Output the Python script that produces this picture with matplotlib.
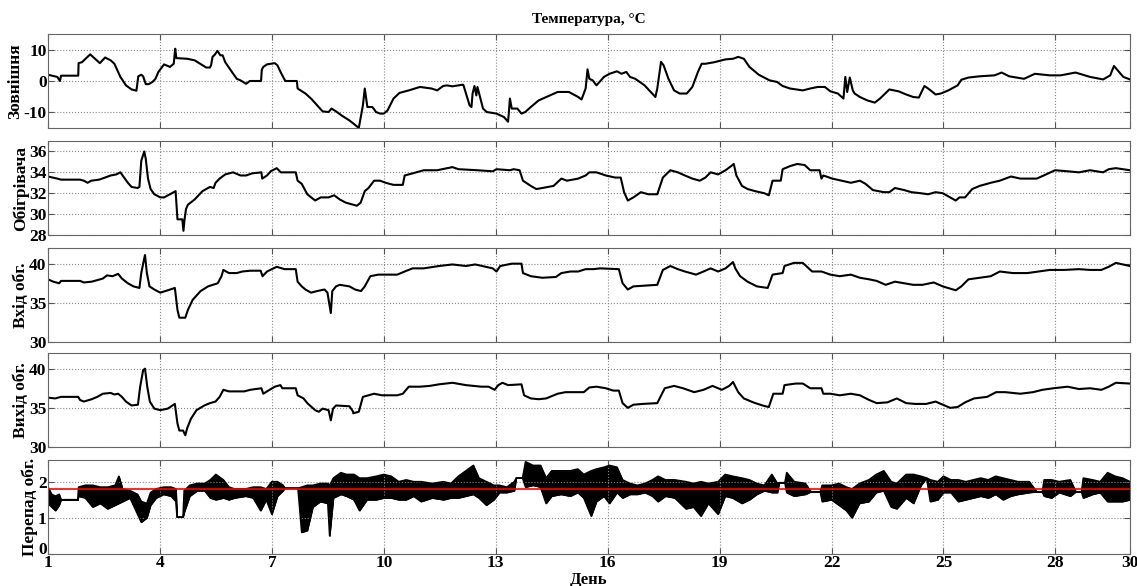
import matplotlib.pyplot as plt
import matplotlib.transforms as mtransforms

plt.rcParams['font.family'] = ['Liberation Serif', 'DejaVu Serif']
plt.rcParams['font.weight'] = 'bold'
plt.rcParams['axes.unicode_minus'] = False

# --- Зовнішня (outdoor temperature) ---
out_day = [1.00, 1.25, 1.32, 1.35, 1.81, 1.82, 1.91, 2.13, 2.39, 2.53, 2.68, 2.78, 2.94, 3.09,
           3.24, 3.37, 3.42, 3.50, 3.55, 3.62, 3.70, 3.80, 3.88, 3.96, 4.11, 4.27, 4.37, 4.41,
           4.44, 4.73, 4.93, 5.08, 5.24, 5.34, 5.37, 5.41, 5.47, 5.54, 5.62, 5.68, 5.75, 5.90,
           6.06, 6.16, 6.31, 6.41, 6.71, 6.73, 6.77, 6.87, 7.08, 7.15, 7.24, 7.36, 7.67, 7.69,
           7.90, 8.05, 8.20, 8.36, 8.52, 8.60, 8.72, 8.87, 9.08, 9.23, 9.33, 9.44, 9.49, 9.56,
           9.69, 9.74, 9.79, 9.90, 10.00, 10.10, 10.26, 10.42, 10.67, 10.97, 11.28, 11.43, 11.59,
           11.69, 11.84, 12.10, 12.13, 12.15, 12.22, 12.30, 12.35, 12.38, 12.43, 12.48, 12.51,
           12.59, 12.66, 12.76, 13.02, 13.22, 13.33, 13.35, 13.38, 13.43, 13.58, 13.69, 13.79,
           13.94, 14.15, 14.45, 14.66, 14.96, 15.21, 15.30, 15.41, 15.46, 15.51, 15.60, 15.70,
           15.90, 16.05, 16.25, 16.37, 16.50, 16.60, 16.74, 16.99, 17.28, 17.33, 17.43, 17.50,
           17.63, 17.78, 17.93, 18.12, 18.27, 18.42, 18.52, 18.62, 18.86, 19.16, 19.36, 19.50,
           19.65, 19.80, 20.05, 20.34, 20.54, 20.69, 20.89, 21.23, 21.43, 21.63, 21.82, 21.97,
           22.17, 22.32, 22.37, 22.42, 22.49, 22.57, 22.62, 22.76, 22.96, 23.16, 23.30, 23.55,
           23.80, 24.00, 24.19, 24.34, 24.49, 24.59, 24.79, 24.93, 25.13, 25.38, 25.48, 25.67,
           25.97, 26.37, 26.56, 26.76, 27.16, 27.45, 27.85, 28.14, 28.54, 28.93, 29.28, 29.47,
           29.57, 29.67, 29.82, 30.00]
out_val = [2.0, 1.3, 0.0, 1.7, 1.7, 5.7, 6.0, 8.5, 5.7, 7.5, 6.6, 5.5, 1.3, -1.4,
           -2.7, -3.1, 1.5, 2.0, 1.5, -1.0, -1.0, -0.3, 0.7, 2.9, 5.3, 4.5, 5.5, 10.3,
           7.3, 7.1, 6.6, 5.5, 4.3, 4.3, 5.0, 7.7, 8.4, 9.6, 8.2, 8.2, 6.0, 3.4,
           0.7, 0.2, -0.9, 0.0, 0.0, 3.6, 4.5, 5.3, 5.7, 5.0, 2.7, 0.0, 0.0, -2.4,
           -4.0, -5.6, -7.6, -9.7, -9.9, -8.8, -9.7, -11.0, -12.6, -14.0, -15.0, -7.8, -2.4, -8.3,
           -8.3, -9.0, -9.9, -10.4, -10.4, -9.4, -5.6, -3.8, -3.0, -1.9, -2.4, -3.0, -1.6,
           -1.4, -1.7, -1.2, -1.2, -1.9, -4.6, -7.8, -8.3, -4.0, -1.6, -4.6, -1.9,
           -5.6, -8.8, -9.9, -10.4, -11.5, -13.0, -10.4, -5.6, -8.8, -8.8, -10.4, -9.9,
           -8.3, -6.2, -4.6, -3.5, -3.5, -5.1, -5.9, -2.4, 3.7, 0.7, 0.2, -1.4,
           1.3, 2.3, 3.1, 2.3, 2.9, 1.3, 0.7, -1.4, -5.1, -2.4, 6.1, 5.0,
           0.7, -3.0, -4.0, -4.0, -1.9, 2.9, 5.5, 5.5, 6.0, 6.9, 7.1, 7.7,
           7.1, 4.5, 2.0, 0.2, -0.3, -1.6, -2.4, -3.0, -2.4, -1.9, -1.9, -3.3,
           -4.0, -5.6, 1.3, -3.5, 1.1, -3.0, -4.0, -5.1, -6.2, -6.9, -5.6, -2.7,
           -3.3, -4.3, -5.1, -5.3, -1.6, -2.4, -4.3, -4.0, -3.0, -1.4, 0.4, 1.1,
           1.5, 1.8, 2.7, 1.5, 0.7, 2.3, 1.8, 1.8, 2.7, 1.3, 0.5, 1.8,
           4.8, 3.4, 1.3, 0.5]

# --- Обігрівача (heater) ---
htr_day = [1.00, 1.25, 1.35, 1.86, 1.96, 2.06, 2.16, 2.37, 2.53, 2.68, 2.83, 2.94, 3.04, 3.14,
           3.24, 3.40, 3.45, 3.50, 3.58, 3.62, 3.68, 3.75, 3.85, 4.01, 4.11, 4.27, 4.42, 4.47,
           4.60, 4.63, 4.66, 4.70, 4.75, 4.93, 5.14, 5.34, 5.44, 5.49, 5.60, 5.75, 5.96, 6.16,
           6.31, 6.47, 6.72, 6.74, 6.87, 6.97, 7.13, 7.24, 7.64, 7.69, 7.80, 7.95, 8.16, 8.31,
           8.52, 8.67, 8.82, 8.98, 9.28, 9.38, 9.49, 9.59, 9.74, 9.90, 10.05, 10.26, 10.51,
           10.56, 10.77, 11.07, 11.43, 11.84, 12.00, 12.51, 12.92, 13.02, 13.38, 13.48, 13.64,
           13.73, 13.94, 14.09, 14.25, 14.55, 14.76, 14.91, 15.21, 15.41, 15.51, 15.70, 15.95,
           16.20, 16.35, 16.44, 16.54, 16.69, 16.89, 17.09, 17.33, 17.48, 17.68, 17.88, 18.07,
           18.27, 18.47, 18.62, 18.76, 18.96, 19.16, 19.31, 19.38, 19.45, 19.60, 19.75, 19.95,
           20.20, 20.32, 20.42, 20.64, 20.69, 20.89, 21.08, 21.28, 21.43, 21.68, 21.73, 21.78,
           22.02, 22.27, 22.52, 22.76, 22.91, 23.11, 23.40, 23.55, 23.70, 23.95, 24.14, 24.39,
           24.59, 24.79, 24.98, 25.18, 25.33, 25.43, 25.58, 25.77, 25.97, 26.27, 26.51, 26.81,
           27.06, 27.35, 27.50, 27.75, 27.99, 28.33, 28.63, 28.93, 29.28, 29.43, 29.62, 30.00]
htr_val = [33.6, 33.4, 33.3, 33.3, 33.2, 33.0, 33.2, 33.3, 33.5, 33.7, 33.8, 34.0, 33.5, 33.0,
           32.6, 32.5, 32.6, 35.1, 36.0, 35.3, 33.4, 32.4, 31.9, 31.6, 31.6, 31.9, 32.2, 29.5,
           29.5, 28.4, 29.5, 30.5, 30.9, 31.4, 32.2, 32.6, 32.5, 33.0, 33.4, 33.8, 34.0, 33.7,
           33.7, 33.9, 34.0, 33.4, 33.7, 34.1, 34.4, 34.0, 34.0, 33.2, 32.9, 31.9, 31.3, 31.6,
           31.6, 31.8, 31.4, 31.1, 30.8, 31.1, 32.2, 32.5, 33.2, 33.2, 33.0, 32.8, 32.8,
           33.7, 33.9, 34.2, 34.2, 34.5, 34.3, 34.2, 34.1, 34.3, 34.2, 34.3, 34.2,
           33.2, 32.7, 32.4, 32.5, 32.7, 33.4, 33.2, 33.4, 33.7, 34.0, 34.0, 33.7,
           33.5, 33.5, 32.1, 31.3, 31.6, 32.1, 31.9, 31.9, 33.5, 34.2, 34.0, 33.7,
           33.4, 33.2, 33.5, 34.0, 33.8, 34.2, 34.6, 34.8, 33.7, 32.7, 32.4, 32.2,
           32.0, 31.8, 33.2, 33.2, 34.3, 34.6, 34.8, 34.7, 34.2, 34.2, 33.4, 33.7,
           33.4, 33.2, 33.0, 33.2, 32.9, 32.3, 32.1, 32.1, 32.5, 32.3, 32.1, 32.0,
           31.9, 32.1, 32.0, 31.6, 31.3, 31.6, 31.6, 32.4, 32.7, 33.0, 33.2, 33.6,
           33.4, 33.4, 33.4, 33.8, 34.2, 34.1, 34.0, 34.2, 34.0, 34.3, 34.4, 34.2]

# --- Вхід обг. (heater inlet) ---
inl_day = [1.00, 1.14, 1.30, 1.35, 1.86, 1.96, 2.17, 2.32, 2.47, 2.58, 2.73, 2.88, 2.98, 3.14,
           3.29, 3.45, 3.50, 3.58, 3.60, 3.65, 3.72, 3.85, 4.01, 4.21, 4.40, 4.47, 4.52, 4.68,
           4.75, 4.88, 5.09, 5.29, 5.55, 5.65, 5.70, 5.85, 6.06, 6.21, 6.42, 6.70, 6.75, 6.87,
           7.13, 7.34, 7.64, 7.69, 7.80, 7.90, 8.05, 8.21, 8.41, 8.49, 8.58, 8.62, 8.72, 8.82,
           9.08, 9.23, 9.39, 9.49, 9.64, 9.85, 10.36, 10.56, 10.77, 11.07, 11.48, 11.84, 12.20,
           12.45, 12.92, 13.02, 13.12, 13.43, 13.69, 13.73, 13.94, 14.25, 14.61, 14.76, 15.00,
           15.21, 15.41, 15.61, 15.80, 16.30, 16.40, 16.54, 16.69, 17.33, 17.48, 17.68, 17.88,
           18.07, 18.37, 18.57, 18.76, 18.96, 19.16, 19.36, 19.42, 19.55, 19.75, 20.00, 20.29,
           20.42, 20.69, 20.74, 20.99, 21.23, 21.48, 21.73, 21.97, 22.22, 22.52, 22.76, 23.01,
           23.21, 23.45, 23.70, 23.95, 24.19, 24.44, 24.74, 24.98, 25.33, 25.48, 25.67, 25.97,
           26.27, 26.51, 26.86, 27.25, 27.55, 27.85, 28.24, 28.63, 28.93, 29.23, 29.43, 29.62,
           30.00]
inl_val = [38.0, 37.7, 37.5, 37.8, 37.8, 37.6, 37.7, 37.9, 38.1, 38.5, 38.4, 38.7, 38.1, 37.5,
           37.1, 36.9, 38.8, 40.7, 41.1, 38.8, 37.1, 36.7, 36.3, 36.6, 36.9, 34.1, 33.1, 33.1,
           34.1, 35.4, 36.5, 37.1, 37.5, 38.4, 39.2, 38.8, 38.8, 39.0, 39.1, 39.1, 38.4, 39.0,
           39.6, 39.3, 39.3, 37.7, 37.1, 36.7, 36.3, 36.5, 36.7, 36.3, 33.7, 36.5, 37.1, 37.3,
           37.1, 36.7, 36.5, 37.1, 38.4, 38.6, 38.6, 39.0, 39.4, 39.4, 39.7, 39.9, 39.7,
           39.9, 39.4, 39.0, 39.7, 40.0, 40.0, 38.8, 38.4, 38.2, 38.3, 38.8, 39.0,
           39.0, 39.3, 39.3, 39.4, 39.3, 37.5, 36.7, 37.1, 37.3, 39.2, 39.7, 39.3,
           39.0, 38.6, 39.0, 39.4, 39.0, 39.4, 40.2, 39.4, 38.4, 37.7, 37.1, 36.9,
           38.6, 38.8, 39.7, 40.1, 40.1, 39.0, 39.0, 38.6, 38.4, 38.6, 38.2, 38.0,
           37.8, 37.3, 37.7, 37.5, 37.3, 37.3, 37.6, 37.1, 36.6, 37.1, 38.0, 38.2,
           38.4, 39.0, 38.8, 38.8, 39.0, 39.2, 39.2, 39.3, 39.2, 39.2, 39.6, 40.1,
           39.7]

# --- Вихід обг. (heater outlet) ---
otl_day = [1.00, 1.19, 1.35, 1.81, 1.86, 1.96, 2.17, 2.32, 2.47, 2.68, 2.78, 2.88, 2.98, 3.09,
           3.24, 3.41, 3.47, 3.55, 3.60, 3.66, 3.73, 3.85, 4.01, 4.21, 4.40, 4.47, 4.52, 4.62,
           4.68, 4.73, 4.83, 4.98, 5.19, 5.34, 5.49, 5.60, 5.70, 5.85, 6.26, 6.42, 6.72, 6.77,
           6.87, 7.08, 7.23, 7.28, 7.64, 7.69, 7.85, 7.95, 8.16, 8.26, 8.36, 8.52, 8.58, 8.64,
           8.72, 9.08, 9.18, 9.18, 9.33, 9.44, 9.74, 9.95, 10.36, 10.51, 10.67, 10.97, 11.23,
           11.48, 11.84, 12.20, 12.61, 12.81, 12.97, 13.07, 13.18, 13.33, 13.69, 13.76, 13.94,
           14.15, 14.35, 14.66, 14.87, 15.17, 15.36, 15.51, 15.70, 15.95, 16.15, 16.30, 16.40,
           16.54, 16.69, 16.94, 17.33, 17.53, 17.78, 18.02, 18.32, 18.57, 18.81, 19.06, 19.26,
           19.36, 19.50, 19.65, 19.90, 20.15, 20.32, 20.44, 20.69, 20.74, 21.04, 21.23, 21.43,
           21.73, 21.78, 21.97, 22.22, 22.52, 22.76, 23.01, 23.21, 23.50, 23.75, 24.00, 24.24,
           24.54, 24.79, 24.98, 25.18, 25.38, 25.58, 25.82, 26.17, 26.41, 26.66, 27.06, 27.40,
           27.65, 27.95, 28.33, 28.63, 28.93, 29.23, 29.43, 29.62, 30.00]
otl_val = [36.3, 36.2, 36.4, 36.4, 36.0, 35.8, 36.1, 36.4, 36.8, 36.9, 36.7, 36.8, 36.4, 35.8,
           35.3, 35.4, 37.7, 39.8, 40.0, 37.7, 35.8, 34.9, 34.7, 34.9, 35.5, 33.0, 32.1, 32.1,
           31.5, 32.4, 33.6, 34.7, 35.3, 35.6, 35.8, 36.4, 37.3, 37.1, 37.1, 37.3, 37.5, 36.8,
           37.1, 37.7, 37.9, 37.5, 37.5, 36.6, 36.2, 35.6, 34.7, 34.5, 34.9, 34.7, 33.4, 34.9,
           35.3, 35.2, 34.5, 34.3, 34.5, 36.4, 36.8, 36.6, 36.6, 36.8, 37.7, 37.7, 37.8,
           38.0, 38.2, 37.9, 37.7, 37.7, 37.3, 37.9, 38.2, 37.9, 38.0, 36.6, 36.2,
           36.1, 36.2, 36.8, 37.0, 37.0, 37.0, 37.6, 37.7, 37.5, 37.2, 37.2, 35.6,
           35.0, 35.4, 35.5, 35.6, 37.5, 37.8, 37.5, 37.0, 37.3, 37.8, 37.3, 37.8,
           38.3, 37.0, 36.2, 35.7, 35.3, 35.1, 36.8, 36.8, 37.9, 38.1, 38.1, 37.5,
           37.5, 36.8, 36.8, 36.6, 36.8, 36.6, 36.0, 35.6, 35.7, 36.2, 35.6, 35.5,
           35.5, 35.8, 35.4, 35.0, 35.1, 35.7, 36.2, 36.4, 37.0, 37.0, 36.8, 37.0,
           37.3, 37.5, 37.7, 37.4, 37.5, 37.3, 37.7, 38.2, 38.1]

# --- Перепад обг. (difference), lower / upper edge of the dense noisy band ---
dif_day = [1.00, 1.10, 1.20, 1.30, 1.35, 1.80, 1.82, 2.00, 2.20, 2.40, 2.60, 2.80, 2.90, 3.00,
           3.20, 3.40, 3.50, 3.65, 3.75, 3.90, 4.10, 4.30, 4.43, 4.46, 4.62, 4.65, 4.80, 5.00,
           5.20, 5.35, 5.50, 5.70, 5.85, 6.00, 6.30, 6.50, 6.70, 6.85, 7.00, 7.15, 7.30, 7.35,
           7.70, 7.80, 7.95, 8.10, 8.30, 8.50, 8.55, 8.65, 8.85, 9.00, 9.20, 9.35, 9.55, 9.80,
           10.00, 10.20, 10.40, 10.60, 10.80, 11.00, 11.30, 11.60, 11.80, 12.00, 12.20, 12.40,
           12.55, 12.75, 12.95, 13.10, 13.30, 13.50, 13.55, 13.72, 13.80, 14.00, 14.20, 14.35,
           14.50, 14.75, 15.00, 15.20, 15.36, 15.56, 15.70, 15.90, 16.05, 16.25, 16.40, 16.60,
           16.80, 17.00, 17.20, 17.35, 17.55, 17.80, 18.10, 18.30, 18.50, 18.70, 18.96, 19.15,
           19.35, 19.60, 19.80, 20.00, 20.20, 20.40, 20.55, 20.60, 20.75, 20.80, 21.00, 21.30,
           21.45, 21.70, 21.75, 22.00, 22.20, 22.40, 22.55, 22.75, 23.00, 23.20, 23.40, 23.60,
           23.75, 24.00, 24.20, 24.40, 24.55, 24.65, 24.85, 25.00, 25.20, 25.40, 25.60, 25.80,
           26.00, 26.20, 26.40, 26.60, 26.80, 27.00, 27.30, 27.50, 27.65, 27.70, 27.90, 28.10,
           28.40, 28.55, 28.70, 28.75, 29.00, 29.20, 29.40, 29.60, 29.80, 30.00]
dif_low = [1.40, 1.30, 1.20, 1.35, 1.50, 1.50, 1.60, 1.55, 1.30, 1.40, 1.25, 1.35, 1.40, 1.45,
           1.55, 1.10, 0.88, 1.00, 1.35, 1.55, 1.65, 1.60, 1.45, 1.02, 1.02, 1.15, 1.60, 1.75,
           1.75, 1.55, 1.50, 1.55, 1.50, 1.55, 1.60, 1.55, 1.20, 1.50, 1.10, 1.60, 1.75, 1.82,
           1.82, 0.60, 0.65, 1.30, 1.45, 1.40, 0.50, 1.55, 1.65, 1.60, 1.50, 1.20, 1.50, 1.50,
           1.55, 1.55, 1.50, 1.50, 1.60, 1.45, 1.55, 1.50, 1.55, 1.55, 1.60, 1.65,
           1.55, 1.35, 1.50, 1.70, 1.70, 1.75, 2.10, 2.10, 1.85, 1.90, 1.85, 1.40,
           1.60, 1.65, 1.60, 1.70, 1.55, 1.05, 1.45, 1.60, 1.40, 1.70, 1.55, 1.65,
           1.65, 1.70, 1.60, 1.45, 1.60, 1.55, 1.25, 1.30, 1.05, 1.40, 1.10, 1.60,
           1.55, 1.40, 1.50, 1.65, 1.75, 1.70, 1.70, 1.97, 1.97, 1.70, 1.60, 1.65,
           1.72, 1.72, 1.45, 1.50, 1.35, 1.20, 1.00, 1.40, 1.45, 1.70, 1.75, 1.30,
           1.25, 1.55, 1.40, 1.90, 2.10, 1.45, 1.50, 1.70, 1.70, 1.45, 1.50, 1.55,
           1.60, 1.55, 1.65, 1.50, 1.60, 1.65, 1.70, 1.72, 1.72, 1.60, 1.55, 1.70,
           1.60, 1.72, 1.72, 1.55, 1.65, 1.70, 1.45, 1.45, 1.45, 1.50]
dif_high = [1.85, 1.65, 1.60, 1.65, 1.50, 1.50, 1.85, 1.90, 1.90, 1.85, 1.85, 1.90, 2.15, 1.80,
            1.75, 1.65, 1.45, 1.40, 1.70, 1.80, 1.85, 1.85, 1.80, 1.02, 1.02, 1.75, 1.90, 1.95,
            1.95, 2.05, 2.20, 2.05, 1.85, 1.80, 1.80, 1.85, 1.85, 1.80, 2.00, 2.00, 1.90, 1.82,
            1.82, 1.85, 1.90, 1.90, 1.95, 1.95, 1.90, 2.10, 2.25, 2.20, 2.20, 2.10, 2.10, 2.15,
            2.20, 2.15, 2.00, 2.05, 2.00, 2.00, 1.95, 2.00, 1.95, 2.15, 2.30, 2.45,
            2.10, 2.00, 1.90, 1.90, 1.85, 2.00, 2.10, 2.10, 2.55, 2.45, 2.45, 2.10,
            2.30, 2.30, 2.30, 2.35, 2.20, 2.30, 2.35, 2.40, 2.45, 2.40, 2.05, 1.95,
            1.90, 1.95, 2.05, 2.15, 2.05, 2.05, 2.00, 1.95, 2.00, 1.95, 2.00, 2.20,
            2.15, 2.10, 2.05, 1.95, 1.90, 2.20, 1.95, 1.97, 1.97, 2.25, 2.00, 1.95,
            1.72, 1.72, 1.90, 1.90, 1.95, 1.85, 1.80, 1.95, 2.05, 2.20, 2.30, 2.00,
            1.95, 2.20, 2.20, 2.15, 2.10, 2.05, 2.00, 2.15, 2.05, 2.05, 2.00, 2.05,
            2.10, 2.05, 2.15, 2.10, 2.05, 2.00, 2.00, 1.72, 1.72, 2.05, 2.05, 2.00,
            2.05, 1.72, 1.72, 2.10, 2.05, 2.00, 2.25, 2.15, 2.10, 2.00]
dif_mean = 1.79

panels = [
    ('Зовнішня', (-15, 15), [-10, 0, 10]),
    ('Обігрівача', (28, 37), [28, 30, 32, 34, 36]),
    ('Вхід обг.', (30, 42), [30, 35, 40]),
    ('Вихід обг.', (30, 42), [30, 35, 40]),
    ('Перепад обг.', (0, 2.6), [0, 1, 2]),
]

fig = plt.figure(figsize=(11.37, 5.86), dpi=100)
axes = []
tops = [34, 141, 248, 353, 460]
for i, (label, ylim, yticks) in enumerate(panels):
    ax = fig.add_axes([48 / 1137, 1 - (tops[i] + 94) / 586, 1082 / 1137, 94 / 586])
    ax.set_xlim(1, 30)
    ax.set_ylim(*ylim)
    ax.set_yticks(yticks)
    ax.set_xticks([1, 4, 7, 10, 13, 16, 19, 22, 25, 28, 30])
    ax.grid(True, color='#888888', linestyle=':', linewidth=0.8)
    ax.tick_params(direction='in', top=True, right=True, labelsize=12.5, length=4,
                   color='#555555', pad=1)
    for s in ax.spines.values():
        s.set_color('#666666')
    ax.set_ylabel(label, fontsize=12.5, fontweight='bold', labelpad=0)
    if i < 4:
        ax.tick_params(labelbottom=False)
    axes.append(ax)

axes[0].plot(out_day, out_val, color='black', lw=1.5)
axes[1].plot(htr_day, htr_val, color='black', lw=1.5)
axes[2].plot(inl_day, inl_val, color='black', lw=1.5)
axes[3].plot(otl_day, otl_val, color='black', lw=1.5)

ax5 = axes[4]
ax5.fill_between(dif_day, dif_low, dif_high, color='black', lw=0.6)
ax5.plot(dif_day, dif_low, color='black', lw=1.2)
ax5.plot(dif_day, dif_high, color='black', lw=1.2)
ax5.axhline(dif_mean, color='red', lw=1.2)
ax5.tick_params(axis='x', pad=1)

# nudge the "0" tick label up so it does not sit on the "1" day label
lift = mtransforms.ScaledTranslation(0, 4 / 72, fig.dpi_scale_trans)
zero_lbl = ax5.get_yticklabels()[0]
zero_lbl.set_transform(zero_lbl.get_transform() + lift)

axes[0].set_title('Температура, °C', fontsize=11, fontweight='bold', pad=8)
ax5.set_xlabel('День', fontsize=12, fontweight='bold', va='top')
ax5.xaxis.set_label_coords(0.5, -0.19)

fig.savefig('out.png', dpi=100)
